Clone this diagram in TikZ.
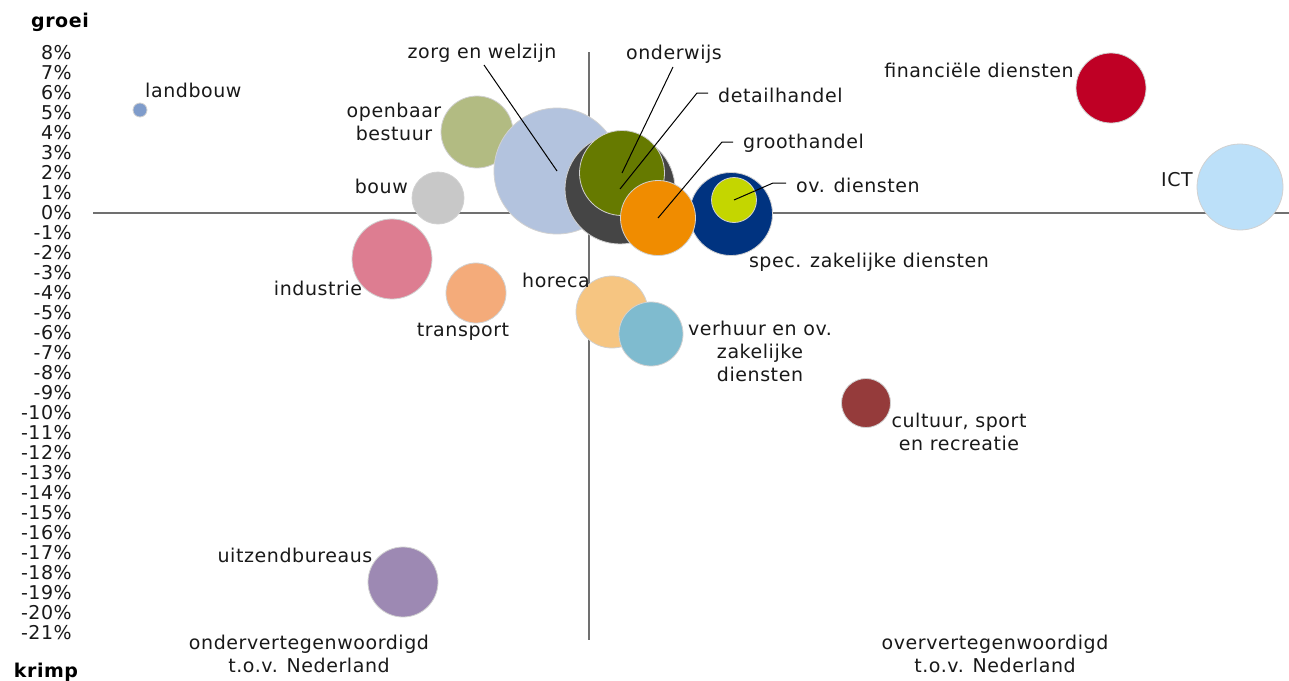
\documentclass[tikz,border=0pt]{standalone}
\usepackage{fontspec}
\setmainfont[LetterSpace=3]{DejaVu Sans}
\definecolor{cland}{HTML}{7F9CCB}
\definecolor{copen}{HTML}{B2BB82}
\definecolor{cbouw}{HTML}{C8C8C8}
\definecolor{czorg}{HTML}{B3C3DE}
\definecolor{cdetail}{HTML}{454545}
\definecolor{conder}{HTML}{667A00}
\definecolor{cgroot}{HTML}{F08C00}
\definecolor{cspec}{HTML}{003380}
\definecolor{cov}{HTML}{C4D600}
\definecolor{cict}{HTML}{BCE0F9}
\definecolor{cfin}{HTML}{BF0025}
\definecolor{cind}{HTML}{DD7D91}
\definecolor{ctrans}{HTML}{F4AB7A}
\definecolor{choreca}{HTML}{F6C581}
\definecolor{cverh}{HTML}{7FBBCF}
\definecolor{ccult}{HTML}{953B3B}
\definecolor{cuitz}{HTML}{9D89B3}
\definecolor{caxis}{HTML}{707070}
\begin{document}
\begin{tikzpicture}[x=1pt,y=-1pt,
  lbl/.style={font=\fontsize{19}{23}\selectfont, inner sep=0pt, text=black!90},
  ttl/.style={font=\fontsize{19}{23}\selectfont\bfseries, inner sep=0pt},
  tick/.style={font=\fontsize{19}{23}\selectfont, inner sep=0pt, anchor=east, text=black!90},
  bub/.style={circle, inner sep=0pt, minimum size=#1, draw=black!18, line width=0.8pt},
  axisline/.style={draw=caxis, line width=1.6pt},
  leader/.style={draw=black, line width=1pt}]
\useasboundingbox (0,0) rectangle (1289,680);
\fill[white] (0,0) rectangle (1289,680);
% axes
\coordinate (hx0) at (93,213);
\coordinate (hx1) at (1289,213);
\coordinate (vy0) at (589,52);
\coordinate (vy1) at (589,640);
\draw[axisline] (hx0) -- (hx1);
\draw[axisline] (vy0) -- (vy1);
% tick labels
\foreach \v in {8,7,...,-21} {
  \node[tick] (tk\v) at (72,{213-20*\v}) {\v\%};
}
\node[ttl] (groei) at (60,22) {groei};
\node[ttl] (krimp) at (46,672) {krimp};
% bubbles
\node[bub=14, fill=cland] (landbouw) at (140,110) {};
\node[bub=72, fill=copen] (openbaar) at (477,132) {};
\node[bub=52, fill=cbouw] (bouw) at (438,198) {};
\node[bub=126, fill=czorg] (zorg) at (557,171) {};
\node[bub=110, fill=cdetail] (detail) at (620,189) {};
\node[bub=85, fill=conder] (onderwijs) at (622,173) {};
\node[bub=83, fill=cspec] (spec) at (731,214) {};
\node[bub=45, fill=cov] (ovd) at (734,200) {};
\node[bub=75, fill=cgroot] (groot) at (658,218) {};
\node[bub=86, fill=cict] (ict) at (1240,187) {};
\node[bub=70, fill=cfin] (fin) at (1111,88) {};
\node[bub=80, fill=cind] (industrie) at (392,259) {};
\node[bub=60, fill=ctrans] (transport) at (476,293) {};
\node[bub=72, fill=choreca] (horeca) at (612,312) {};
\node[bub=64, fill=cverh] (verhuur) at (651,334) {};
\node[bub=49, fill=ccult] (cultuur) at (866,403) {};
\node[bub=70, fill=cuitz] (uitzend) at (403,582) {};
% labels
\node[lbl, anchor=west] (tland) at (145,90) {landbouw};
\node[lbl, align=center] (topen) at (394,122) {openbaar\\bestuur};
\node[lbl, anchor=east] (tbouw) at (408,186) {bouw};
\node[lbl] (tzorg) at (482,53) {zorg en welzijn};
\node[lbl] (tonder) at (674,54) {onderwijs};
\node[lbl, anchor=west] (tdetail) at (718,95) {detailhandel};
\node[lbl, anchor=west] (tgroot) at (743,143) {groothandel};
\node[lbl, anchor=west] (tov) at (796,185) {ov. diensten};
\node[lbl] (tspec) at (869,262) {spec. zakelijke diensten};
\node[lbl, anchor=east] (tict) at (1193,180) {ICT};
\node[lbl] (tfin) at (979,70) {financiële diensten};
\node[lbl] (tind) at (318,288) {industrie};
\node[lbl] (ttrans) at (463,332) {transport};
\node[lbl] (thoreca) at (556,280) {horeca};
\node[lbl, align=center] (tverh) at (760,351) {verhuur en ov.\\zakelijke\\diensten};
\node[lbl, align=center] (tcult) at (959,432) {cultuur, sport\\en recreatie};
\node[lbl] (tuitz) at (295,555) {uitzendbureaus};
\node[lbl, align=center] (tondv) at (309,654) {ondervertegenwoordigd\\t.o.v. Nederland};
\node[lbl, align=center] (toverv) at (995,654) {oververtegenwoordigd\\t.o.v. Nederland};
% leader lines
\coordinate (lzorg) at (484,65);
\coordinate (lond) at (673,67);
\coordinate (ldet0) at (708,93);
\coordinate (ldet1) at (697,93);
\coordinate (lgr0) at (733,142);
\coordinate (lgr1) at (722,142);
\coordinate (lov0) at (786,183);
\coordinate (lov1) at (773,183);
\draw[leader] (lzorg) -- (zorg.center);
\draw[leader] (lond) -- (onderwijs.center);
\draw[leader] (ldet0) -- (ldet1) -- (detail.center);
\draw[leader] (lgr0) -- (lgr1) -- (groot.center);
\draw[leader] (lov0) -- (lov1) -- (ovd.center);
\end{tikzpicture}
\end{document}
